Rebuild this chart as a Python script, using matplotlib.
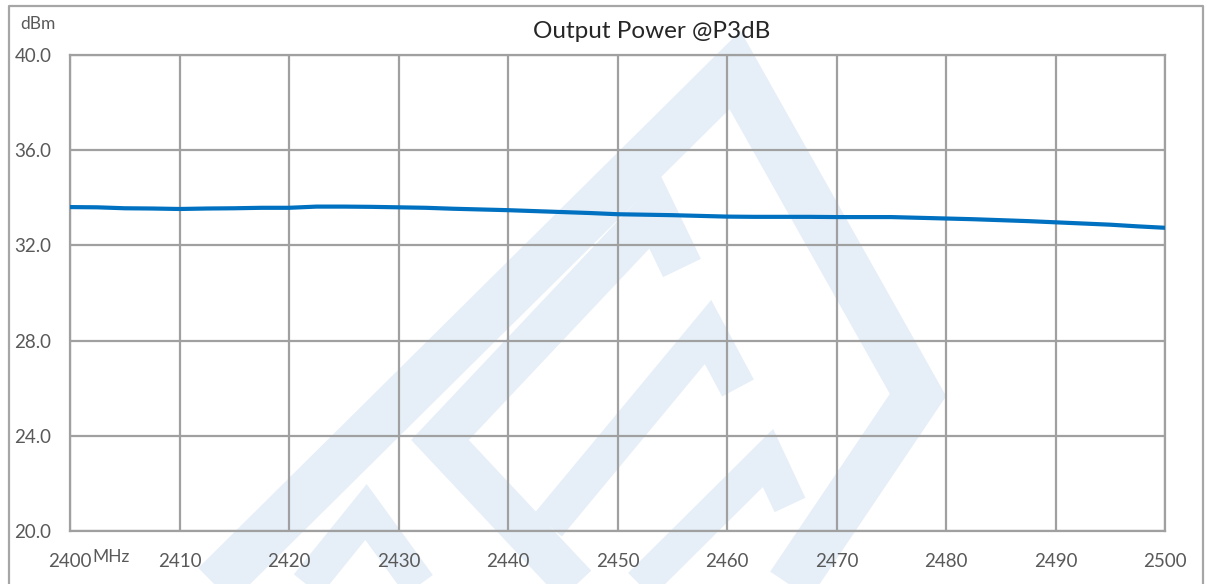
import matplotlib
matplotlib.use("Agg")
import matplotlib.pyplot as plt
from matplotlib.lines import Line2D

# measured output power @P3dB
freq_mhz = [2400, 2402.5, 2405, 2407.5, 2410, 2412.5, 2415, 2417.5, 2420, 2422.5,
            2425, 2427.5, 2430, 2432.5, 2435, 2437.5, 2440, 2442.5, 2445, 2447.5,
            2450, 2452.5, 2455, 2457.5, 2460, 2462.5, 2465, 2467.5, 2470, 2472.5,
            2475, 2477.5, 2480, 2482.5, 2485, 2487.5, 2490, 2492.5, 2495, 2497.5, 2500]
power_dbm = [33.61, 33.60, 33.56, 33.55, 33.53, 33.55, 33.56, 33.58, 33.58, 33.63,
             33.63, 33.62, 33.60, 33.58, 33.54, 33.51, 33.48, 33.44, 33.40, 33.36,
             33.31, 33.29, 33.27, 33.24, 33.21, 33.20, 33.20, 33.20, 33.19, 33.19,
             33.19, 33.16, 33.13, 33.10, 33.06, 33.02, 32.97, 32.92, 32.87, 32.80, 32.74]

x_ticks = [2400, 2410, 2420, 2430, 2440, 2450, 2460, 2470, 2480, 2490, 2500]
y_ticks = [20, 24, 28, 32, 36, 40]

W, H = 1211, 584
plt.rcParams['font.family'] = ['Lato', 'DejaVu Sans']

fig = plt.figure(figsize=(W / 100, H / 100), dpi=100)
ax = fig.add_axes([70 / W, 1 - 531 / H, (1165 - 70) / W, (531 - 55) / H])
ax.set_facecolor('none')


def px(x, y):
    return x / W, 1 - y / H


# light watermark logo behind the plot (decoration only)
wm_color = '#e6eff8'
strokes = [
    ([(200, 600), (735, 70), (918, 395), (780, 600)], 48),
    ([(682, 268), (655, 212), (440, 440), (590, 600)], 42),
    ([(738, 388), (708, 332), (548, 525)], 36),
    ([(790, 505), (768, 458), (625, 600)], 34),
    ([(295, 600), (366, 512), (430, 600)], 34),
]
for pts, w in strokes:
    xs = [px(p[0], p[1])[0] for p in pts]
    ys = [px(p[0], p[1])[1] for p in pts]
    fig.add_artist(Line2D(xs, ys, color=wm_color, lw=w * 0.72,
                          solid_joinstyle='miter', solid_capstyle='butt', zorder=-1))

# outer chart frame
frame = '#a6a6a6'
fx = [px(9, 600)[0], px(9, 6)[0], px(1203, 6)[0], px(1203, 600)[0]]
fy = [px(9, 600)[1], px(9, 6)[1], px(1203, 6)[1], px(1203, 600)[1]]
fig.add_artist(Line2D(fx, fy, color=frame, lw=1.6, zorder=-0.5))

ax.plot(freq_mhz, power_dbm, color='#0070C0', lw=3.0, zorder=3)

ax.set_xlim(2400, 2500)
ax.set_ylim(20, 40)
ax.set_xticks(x_ticks)
ax.set_yticks(y_ticks)
ax.set_xticklabels([str(t) for t in x_ticks])
ax.set_yticklabels(['%.1f' % t for t in y_ticks])
ax.grid(True, color='#a0a0a0', lw=1.6)
ax.set_axisbelow(True)
for s in ax.spines.values():
    s.set_color('#a0a0a0')
    s.set_linewidth(1.6)

ax.tick_params(axis='both', length=0, labelsize=13.5, labelcolor='#595959')
ax.tick_params(axis='x', pad=16)
ax.tick_params(axis='y', pad=40)
for lab in ax.get_yticklabels():
    lab.set_horizontalalignment('left')

fig.text(652 / W, 1 - 32 / H, 'Output Power @P3dB', ha='center', va='center',
         fontsize=17.5, color='#262626')
fig.text(20 / W, 1 - 24 / H, 'dBm', ha='left', va='center', fontsize=12.5, color='#595959')
fig.text(92 / W, 1 - 557 / H, 'MHz', ha='left', va='center', fontsize=12.5, color='#595959')

fig.savefig('out.png', dpi=100)
